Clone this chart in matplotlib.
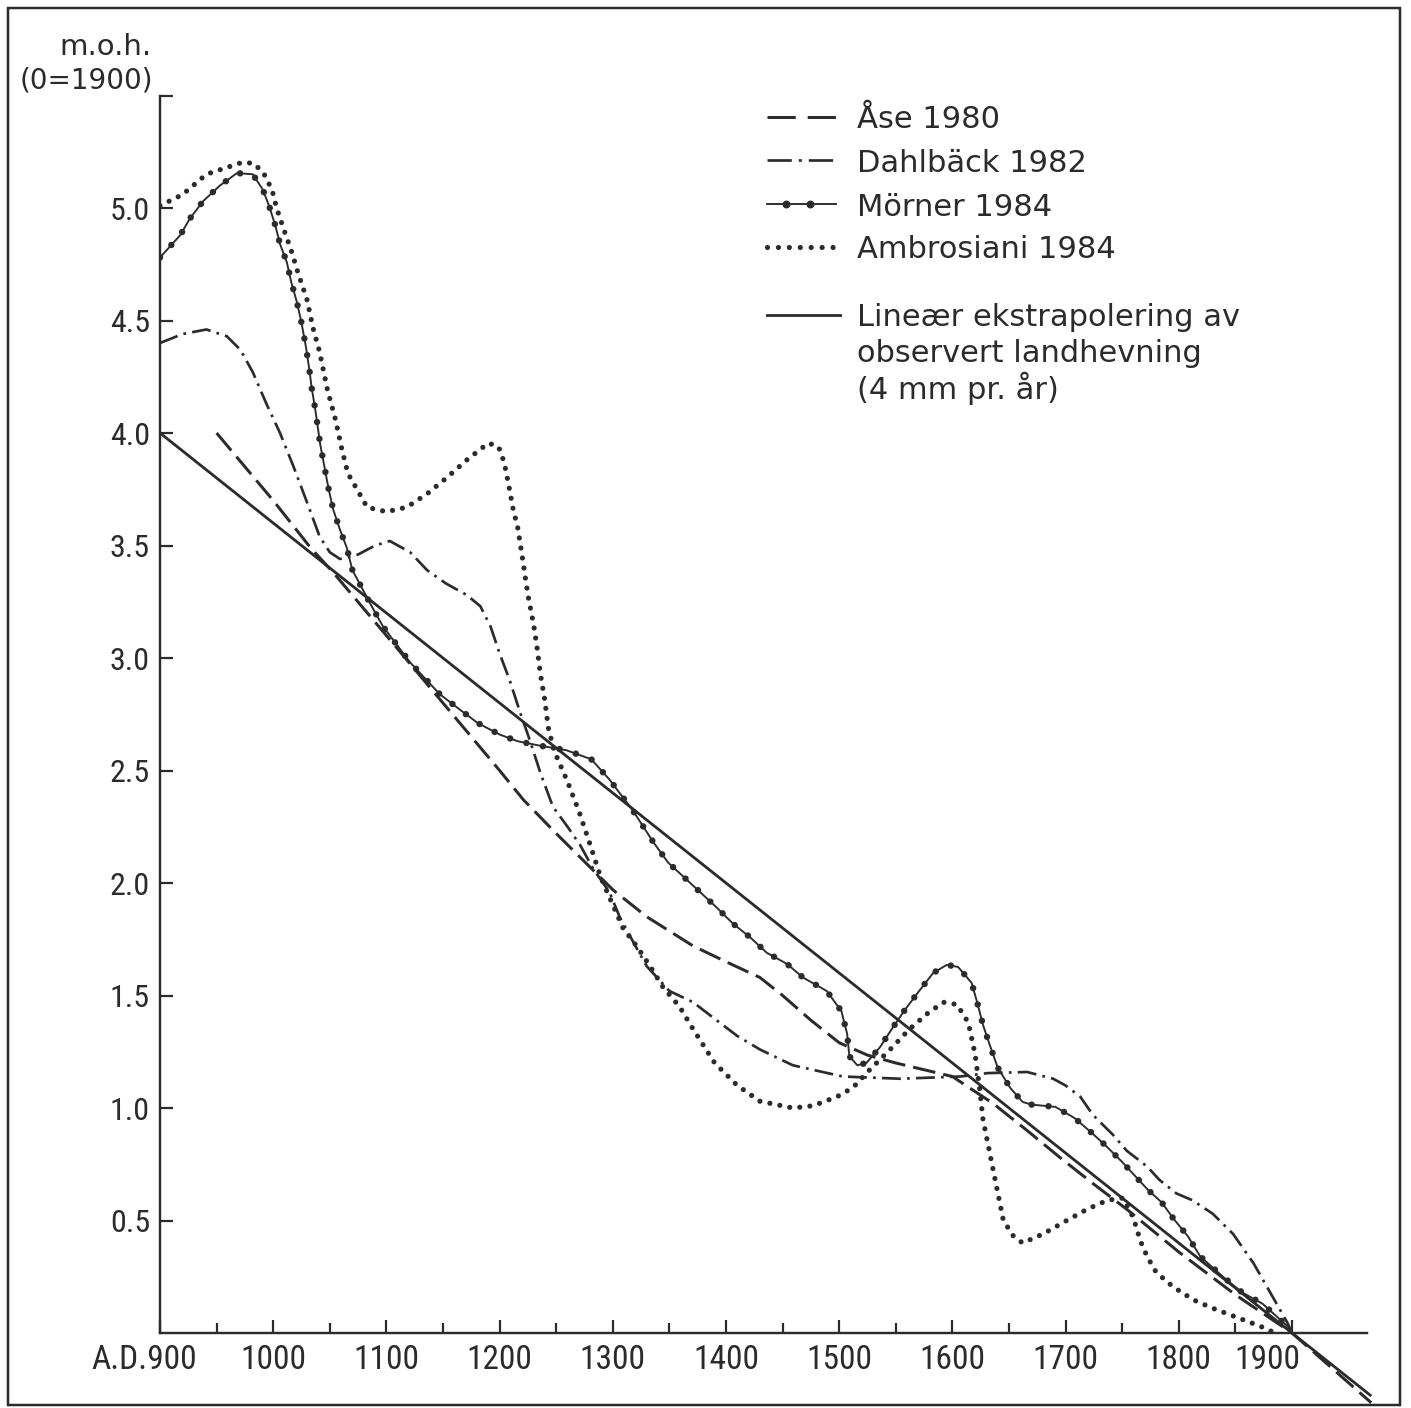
import matplotlib
matplotlib.use("Agg")
import matplotlib.pyplot as plt
from matplotlib.lines import Line2D
from matplotlib.patches import Rectangle
from matplotlib import font_manager

# ---------------- data ----------------
linear_years = [900, 1970]
linear_vals = [4.0, -0.28]

ase_years = [950, 1000, 1033, 1053, 1100, 1150, 1200, 1221, 1250, 1286, 1300, 1330,
             1371, 1400, 1430, 1450, 1475, 1500, 1525, 1550, 1575, 1600, 1636, 1666,
             1695, 1724, 1754, 1800, 1850, 1900, 1970]
ase_vals = [4.00, 3.70, 3.49, 3.38, 3.10, 2.80, 2.50, 2.37, 2.22, 2.04, 1.97, 1.85,
            1.72, 1.65, 1.58, 1.50, 1.39, 1.29, 1.235, 1.20, 1.17, 1.14, 1.02, 0.90,
            0.78, 0.665, 0.55, 0.36, 0.17, 0.0, -0.31]

dahl_years = [900, 920, 941, 959, 971, 982, 994, 1006, 1018, 1030, 1041, 1050, 1059,
              1075, 1090, 1103, 1121, 1136, 1153, 1171, 1183, 1192, 1200, 1209, 1218,
              1227, 1236, 1247, 1260, 1271, 1283, 1297, 1306, 1320, 1330, 1350, 1371,
              1380, 1410, 1430, 1459, 1503, 1554, 1607, 1631, 1666, 1689, 1700, 1713,
              1724, 1742, 1754, 1772, 1783, 1798, 1812, 1830, 1848, 1866, 1883, 1896,
              1900]
dahl_vals = [4.40, 4.44, 4.46, 4.43, 4.37, 4.27, 4.13, 4.00, 3.85, 3.69, 3.54, 3.47, 3.44,
             3.46, 3.50, 3.52, 3.47, 3.39, 3.33, 3.28, 3.23, 3.14, 3.02, 2.90, 2.76,
             2.63, 2.49, 2.34, 2.25, 2.17, 2.06, 1.96, 1.85, 1.72, 1.63, 1.52, 1.47,
             1.435, 1.32, 1.26, 1.19, 1.14, 1.13, 1.14, 1.155, 1.16, 1.13, 1.10, 1.05,
             0.97, 0.88, 0.81, 0.74, 0.68, 0.62, 0.59, 0.53, 0.44, 0.31, 0.16, 0.045,
             0.0]

morner_years = [900, 918, 926, 938, 953, 968, 982, 991, 997, 1002, 1006, 1012, 1016,
                1021, 1025, 1029, 1032, 1034, 1037, 1039, 1041.5, 1046, 1049, 1053, 1059,
                1065, 1070, 1087, 1097, 1109, 1121, 1134, 1147, 1165, 1181, 1200, 1216,
                1236, 1259, 1281, 1297, 1318, 1336, 1349, 1362, 1377, 1392, 1406, 1421,
                1436, 1454, 1468, 1489, 1502, 1507, 1509, 1516, 1524, 1536, 1547, 1558,
                1570, 1583, 1595, 1605, 1617, 1622, 1627, 1633, 1640, 1651, 1662, 1670,
                1691, 1708, 1723, 1736, 1750, 1761, 1773, 1785, 1795, 1808, 1819, 1839,
                1856, 1874, 1896, 1900]
morner_vals = [4.78, 4.88, 4.95, 5.03, 5.10, 5.155, 5.15, 5.08, 5.00, 4.92, 4.84, 4.76, 4.67,
               4.58, 4.49, 4.38, 4.28, 4.20, 4.11, 4.04, 3.95, 3.83, 3.75, 3.66, 3.57,
               3.49, 3.39, 3.23, 3.14, 3.06, 2.98, 2.91, 2.84, 2.77, 2.71, 2.66, 2.63,
               2.61, 2.59, 2.55, 2.46, 2.32, 2.18, 2.09, 2.03, 1.96, 1.89, 1.82, 1.76,
               1.69, 1.64, 1.58, 1.52, 1.43, 1.33, 1.23, 1.19, 1.20, 1.27, 1.355, 1.436,
               1.516, 1.60, 1.636, 1.627, 1.556, 1.467, 1.37, 1.28, 1.18, 1.09, 1.027, 1.015,
               1.005, 0.955, 0.89, 0.83, 0.76, 0.70, 0.635, 0.58, 0.51, 0.43, 0.34, 0.25,
               0.18, 0.13, 0.03, 0.0]

ambro_years = [900, 920, 941, 959, 971, 982, 991, 999, 1003, 1009, 1016, 1022, 1030,
               1035, 1041, 1048, 1055, 1061, 1066, 1074, 1083, 1100, 1118, 1136, 1153,
               1171, 1190, 1199, 1204, 1208, 1212, 1216, 1220, 1225, 1230, 1233, 1236,
               1240, 1243, 1248, 1254, 1260, 1270, 1280, 1289, 1295, 1309, 1321, 1333,
               1344, 1359, 1371, 1390, 1410, 1430, 1459, 1477, 1498, 1512, 1527, 1545,
               1562, 1578, 1592, 1604, 1614, 1620, 1624, 1627, 1633, 1639, 1645, 1654,
               1662, 1680, 1701, 1719, 1737, 1751, 1760, 1766, 1772, 1780, 1795, 1813,
               1830, 1851, 1872, 1885]
ambro_vals = [5.01, 5.06, 5.15, 5.18, 5.20, 5.20, 5.16, 5.08, 5.00, 4.91, 4.81, 4.71, 4.59,
              4.47, 4.36, 4.19, 4.06, 3.92, 3.82, 3.75, 3.67, 3.65, 3.67, 3.73, 3.80,
              3.88, 3.955, 3.94, 3.87, 3.77, 3.66, 3.58, 3.45, 3.28, 3.15, 3.05, 2.93,
              2.81, 2.69, 2.59, 2.52, 2.45, 2.32, 2.17, 2.03, 1.96, 1.80, 1.72, 1.63,
              1.54, 1.45, 1.35, 1.20, 1.10, 1.03, 1.00, 1.01, 1.05, 1.09, 1.17, 1.26,
              1.35, 1.42, 1.47, 1.46, 1.38, 1.24, 1.09, 0.95, 0.80, 0.65, 0.50, 0.43,
              0.40, 0.44, 0.50, 0.55, 0.59, 0.60, 0.51, 0.41, 0.34, 0.27, 0.205, 0.147,
              0.11, 0.07, 0.03, 0.0]

x_major_ticks = [900, 1000, 1100, 1200, 1300, 1400, 1500, 1600, 1700, 1800, 1900]
x_minor_ticks = [950, 1050, 1150, 1250, 1350, 1450, 1550, 1650, 1750, 1850]
x_tick_labels = ["A.D.900", "1000", "1100", "1200", "1300", "1400", "1500", "1600",
                 "1700", "1800", "1900"]
y_ticks = [0.5, 1.0, 1.5, 2.0, 2.5, 3.0, 3.5, 4.0, 4.5, 5.0, 5.5]
y_tick_labels = ["0.5", "1.0", "1.5", "2.0", "2.5", "3.0", "3.5", "4.0", "4.5", "5.0", ""]
y_title_lines = ["m.o.h.", "(0=1900)"]
legend_labels = ["Åse 1980", "Dahlbäck 1982", "Mörner 1984", "Ambrosiani 1984",
                 "Lineær ekstrapolering av\nobservert landhevning\n(4 mm pr. år)"]

# ---------------- styling ----------------
available = {f.name for f in font_manager.fontManager.ttflist}
NUM_FONT = "DejaVu Sans"
for cand in ["Roboto Condensed", "Liberation Sans Narrow", "DejaVu Sans"]:
    if cand in available:
        NUM_FONT = cand
        break
TXT_FONT = ["DejaVu Sans"]
plt.rcParams["font.family"] = [NUM_FONT, "DejaVu Sans"]

INK = "#2b2b2b"
W, H = 1411, 1408
PX = 72.0 / 100.0  # points per pixel at dpi 100


def fx(px):
    return px / W


def fy(py):
    return 1.0 - py / H


fig = plt.figure(figsize=(W / 100, H / 100), dpi=100)
fig.patch.set_facecolor("white")

ax = fig.add_axes([fx(160), fy(1405), (1376.9 - 160) / W, (1405 - 95.5) / H])
ax.set_xlim(900, 1975)
ax.set_ylim(-0.32, 5.5)
ax.patch.set_alpha(0)

for s in ["top", "right"]:
    ax.spines[s].set_visible(False)
ax.spines["bottom"].set_position(("data", 0))
ax.spines["bottom"].set_bounds(900, 1966)
ax.spines["left"].set_bounds(0, 5.5)
for s in ["bottom", "left"]:
    ax.spines[s].set_color(INK)
    ax.spines[s].set_linewidth(2.4 * PX)

# --- series ---
ax.plot(linear_years, linear_vals, color=INK, lw=2.8 * PX, solid_capstyle="butt", zorder=3)

ax.plot(ase_years, ase_vals, color=INK, lw=3.0 * PX,
        linestyle=(0, (7.6, 2.7)), dash_capstyle="butt", zorder=3)

ax.plot(dahl_years, dahl_vals, color=INK, lw=2.7 * PX,
        linestyle=(0, (7.0, 2.3, 1.0, 2.3)), dash_capstyle="butt", zorder=3)

ax.plot(morner_years, morner_vals, color=INK, lw=1.9 * PX, zorder=4)
ax.plot(morner_years, morner_vals, color=INK, lw=6.5 * PX,
        linestyle=(0, (0.001, 2.6)), dash_capstyle="round", zorder=4)

ax.plot(ambro_years, ambro_vals, color=INK, lw=5.2 * PX,
        linestyle=(0, (0.001, 1.95)), dash_capstyle="round", zorder=3)

# --- ticks ---
ax.set_xticks(x_major_ticks)
ax.set_xticks(x_minor_ticks, minor=True)
shown = list(x_tick_labels)
shown[0] = ""
shown[-1] = ""
ax.set_xticklabels(shown)
ax.tick_params(axis="x", which="major", direction="in", length=13 * PX, width=2.2 * PX,
               color=INK, labelcolor=INK, labelsize=24, pad=11 * PX)
ax.tick_params(axis="x", which="minor", direction="in", length=10 * PX, width=2.2 * PX,
               color=INK)
ax.set_yticks(y_ticks)
ax.set_yticklabels(y_tick_labels)
ax.tick_params(axis="y", which="major", direction="in", length=13 * PX, width=2.2 * PX,
               color=INK, labelcolor=INK, labelsize=23, pad=10 * PX)

lab_y = fy(1344)
fig.text(fx(197), lab_y, x_tick_labels[0], ha="right", va="top", fontsize=24, color=INK)
fig.text(fx(1267), lab_y, x_tick_labels[-1], ha="center", va="top", fontsize=24, color=INK)

# --- y title ---
fig.text(fx(151), fy(47), y_title_lines[0], ha="right", va="center", fontsize=21,
         color=INK, family=TXT_FONT)
fig.text(fx(153), fy(80), y_title_lines[1], ha="right", va="center", fontsize=20,
         color=INK, family=TXT_FONT)

# --- legend (drawn by hand to match the layout) ---
row_y = [117, 160, 204, 247, 315]
line_gap = 35
hx0, hx1, tx = 767, 836, 857
styles = [
    dict(lw=3.0 * PX, linestyle=(0, (9.4, 4.0)), dash_capstyle="butt"),
    dict(lw=2.7 * PX, linestyle=(0, (9.0, 2.6, 1.1, 2.6)), dash_capstyle="butt"),
    None,
    dict(lw=5.2 * PX, linestyle=(0, (0.001, 2.1)), dash_capstyle="round"),
    dict(lw=2.8 * PX, linestyle="-"),
]
for i, (lab, yy) in enumerate(zip(legend_labels, row_y)):
    if i == 2:
        fig.add_artist(Line2D([fx(hx0), fx(786), fx(810), fx(hx1)], [fy(yy)] * 4,
                              color=INK, lw=1.9 * PX, marker="o", markersize=6.5 * PX,
                              markevery=[1, 2], transform=fig.transFigure))
    else:
        x1 = hx1 + (4 if i == 4 else 0)
        fig.add_artist(Line2D([fx(hx0), fx(x1)], [fy(yy), fy(yy)], color=INK,
                              transform=fig.transFigure, **styles[i]))
    for k, line in enumerate(lab.split("\n")):
        fig.text(fx(tx), fy(yy + k * line_gap), line, ha="left", va="center_baseline",
                 fontsize=22, color=INK, family=TXT_FONT)

# --- frame around the whole figure ---
fig.add_artist(Rectangle((fx(8), fy(1405)), (1400 - 8) / W, (1405 - 8) / H,
                         transform=fig.transFigure, fill=False, lw=2.5 * PX,
                         edgecolor=INK))

fig.savefig("out.png", dpi=100, facecolor="white")
